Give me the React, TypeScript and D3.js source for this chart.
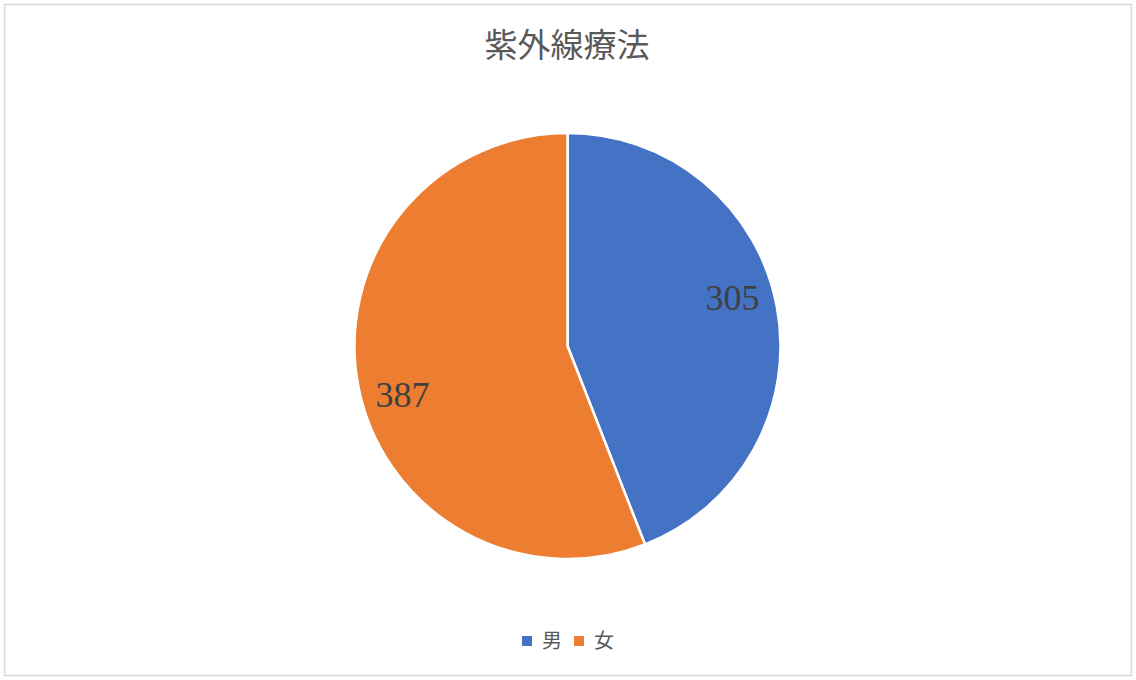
import React, { useEffect, useRef } from 'react';
import * as d3 from 'd3';

const title = '紫外線療法';
const categories = ['男', '女'];
const values = [305, 387];
const colors = ['#4472C4', '#ED7D31'];

const W = 1136;
const H = 680;

const App: React.FC = () => {
  const svgRef = useRef<SVGSVGElement>(null);

  useEffect(() => {
    if (!svgRef.current) return;
    const svg = d3.select(svgRef.current);
    svg.selectAll('*').remove();

    // chart frame
    svg.append('rect')
      .attr('x', 4.5)
      .attr('y', 4.5)
      .attr('width', W - 9)
      .attr('height', H - 9)
      .attr('fill', '#ffffff')
      .attr('stroke', '#d9d9d9')
      .attr('stroke-width', 1.5);

    svg.append('text')
      .attr('x', 567)
      .attr('y', 57)
      .attr('text-anchor', 'middle')
      .attr('font-family', '"Noto Sans CJK JP", sans-serif')
      .attr('font-size', '33px')
      .attr('fill', '#595959')
      .text(title);

    const cx = 567.5;
    const cy = 346;
    const radius = 213;

    const data = categories.map((c, i) => ({ cat: c, value: values[i], color: colors[i] }));
    const pie = d3.pie<typeof data[number]>()
      .sort(null)
      .value((d) => d.value)
      .startAngle(0);
    const arcs = pie(data);

    const arc = d3.arc<d3.PieArcDatum<typeof data[number]>>()
      .innerRadius(0)
      .outerRadius(radius);

    const g = svg.append('g').attr('transform', `translate(${cx}, ${cy})`);

    g.selectAll('path.slice')
      .data(arcs)
      .enter()
      .append('path')
      .attr('class', 'slice')
      .attr('d', arc)
      .attr('fill', (d) => d.data.color)
      .attr('stroke', '#ffffff')
      .attr('stroke-width', 2.5)
      .attr('stroke-linejoin', 'round');

    // data labels, slightly rotated back like Excel's best fit
    const labelR = 172;
    const shift = 0.1;
    g.selectAll('text.val')
      .data(arcs)
      .enter()
      .append('text')
      .attr('class', 'val')
      .attr('x', (d) => Math.sin((d.startAngle + d.endAngle) / 2 - shift) * labelR)
      .attr('y', (d) => -Math.cos((d.startAngle + d.endAngle) / 2 - shift) * labelR)
      .attr('text-anchor', 'middle')
      .attr('dy', '0.35em')
      .attr('font-family', '"Liberation Serif", "DejaVu Serif", serif')
      .attr('font-size', '36px')
      .attr('fill', '#404040')
      .text((d) => d.data.value);

    // legend
    const legend = svg.append('g').attr('transform', 'translate(522, 648)');
    const itemX = d3.scaleOrdinal<string, number>().domain(categories).range([0, 52]);
    const items = legend.selectAll('g.item')
      .data(data)
      .enter()
      .append('g')
      .attr('class', 'item')
      .attr('transform', (d) => `translate(${itemX(d.cat)}, 0)`);
    items.append('rect')
      .attr('x', 0)
      .attr('y', -12)
      .attr('width', 10)
      .attr('height', 10)
      .attr('fill', (d) => d.color);
    items.append('text')
      .attr('x', 20)
      .attr('y', 0)
      .attr('font-family', '"Noto Sans CJK JP", sans-serif')
      .attr('font-size', '20px')
      .attr('fill', '#595959')
      .text((d) => d.cat);
  }, []);

  return (
    <div style={{ position: 'absolute', left: 0, top: 0 }}>
      <svg ref={svgRef} width={W} height={H} style={{ display: 'block' }} />
    </div>
  );
};

export default App;
